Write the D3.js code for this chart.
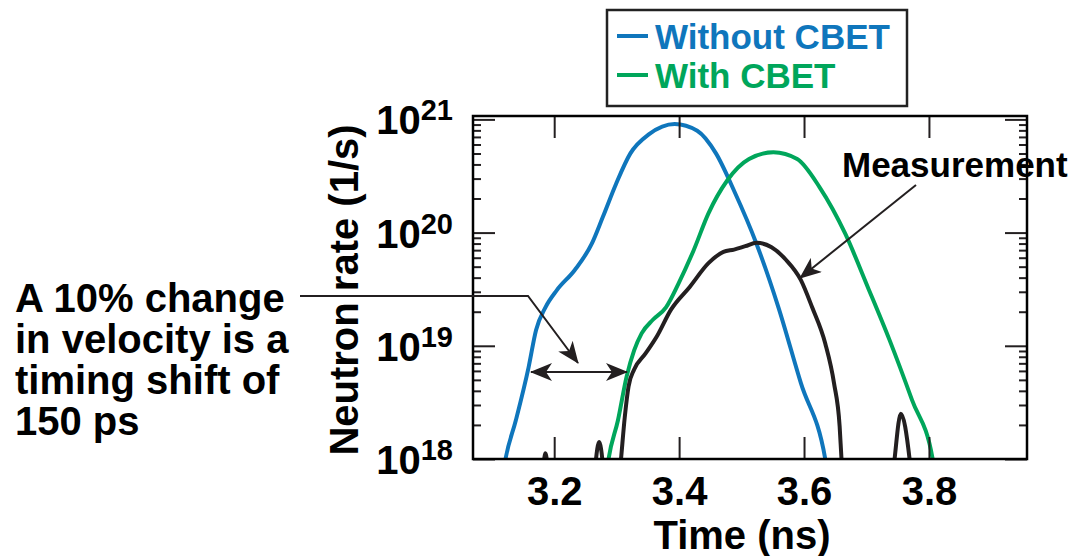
<!DOCTYPE html>
<html>
<head>
<meta charset="utf-8">
<script src="https://cdn.jsdelivr.net/npm/d3@7"></script>
<style>
  body { margin: 0; background: #fff; }
  svg { display: block; font-family: "Liberation Sans", Arial, sans-serif; font-weight: bold; }
</style>
</head>
<body>
<div id="plot"></div>
<script>
// time (ns) and log10 of neutron rate (1/s)
const withoutTime = [3.116, 3.122, 3.1385, 3.159, 3.171, 3.186, 3.204, 3.233, 3.260, 3.278, 3.299, 3.322, 3.352, 3.393, 3.429, 3.459, 3.488, 3.524, 3.559, 3.595, 3.634, 3.640];
const withoutLog  = [17.8, 18.0, 18.34, 18.81, 19.14, 19.34, 19.49, 19.67, 19.90, 20.14, 20.43, 20.70, 20.87, 20.96, 20.90, 20.70, 20.37, 19.90, 19.34, 18.67, 18.0, 17.8];

const withTime = [3.282, 3.287, 3.302, 3.316, 3.328, 3.340, 3.358, 3.379, 3.399, 3.423, 3.447, 3.477, 3.512, 3.551, 3.589, 3.625, 3.666, 3.702, 3.737, 3.773, 3.806, 3.812];
const withLog  = [17.8, 18.0, 18.34, 18.73, 18.96, 19.11, 19.23, 19.34, 19.55, 19.84, 20.17, 20.46, 20.65, 20.71, 20.65, 20.40, 19.99, 19.52, 19.05, 18.52, 18.0, 17.8];

const measTime = [3.170, 3.182, 3.186, 3.190, 3.200, 3.260, 3.266, 3.272, 3.278, 3.284, 3.302, 3.307, 3.313, 3.319, 3.328, 3.346, 3.364, 3.387, 3.417, 3.447, 3.471, 3.488, 3.506, 3.524, 3.548, 3.571, 3.595, 3.613, 3.634, 3.648, 3.657, 3.660, 3.664, 3.700, 3.738, 3.745, 3.755, 3.769, 3.776, 3.800];
const measLog  = [17.0, 17.9, 18.05, 17.9, 17.0, 17.5, 17.95, 18.15, 17.95, 17.5, 17.7, 18.0, 18.37, 18.64, 18.79, 18.93, 19.08, 19.32, 19.52, 19.73, 19.83, 19.85, 19.88, 19.91, 19.87, 19.76, 19.58, 19.34, 19.02, 18.67, 18.29, 18.0, 17.7, 17.0, 17.6, 18.0, 18.40, 18.0, 17.6, 17.0];

const xTicks = [3.2, 3.4, 3.6, 3.8];
const yDecades = [18, 19, 20, 21];
const legendNames = ['Without CBET', 'With CBET'];

const note = ['A 10% change', 'in velocity is a', 'timing shift of', '150 ps'];

const colBlue = '#0f76bc';
const colGreen = '#00a65b';
const colBlack = '#231f20';

const width = 1071;
const height = 556;
const plot = { left: 473, right: 1027, top: 116, bottom: 459 };

const svg = d3.select('#plot')
  .append('svg')
  .attr('width', width)
  .attr('height', height);

const x = d3.scaleLinear().domain([3.07, 3.957]).range([plot.left, plot.right]);
const y = d3.scaleLog().domain([1e18, Math.pow(10, 21.03)]).range([plot.bottom, plot.top]);

const majors = yDecades.map(e => Math.pow(10, e));
const minors = [];
yDecades.slice(0, -1).forEach(e => {
  for (let m = 2; m <= 9; m++) minors.push(m * Math.pow(10, e));
});

// clip
svg.append('clipPath').attr('id', 'clip')
  .append('rect')
  .attr('x', plot.left).attr('y', plot.top)
  .attr('width', plot.right - plot.left).attr('height', plot.bottom - plot.top);

// curves
const line = d3.line()
  .x(d => x(d[0]))
  .y(d => y(Math.pow(10, d[1])))
  .curve(d3.curveMonotoneX);

const series = [
  { t: withoutTime, v: withoutLog, col: colBlue },
  { t: withTime, v: withLog, col: colGreen },
  { t: measTime, v: measLog, col: colBlack }
];

svg.append('g')
  .attr('clip-path', 'url(#clip)')
  .selectAll('path')
  .data(series)
  .enter()
  .append('path')
  .attr('d', d => line(d3.zip(d.t, d.v)))
  .attr('fill', 'none')
  .attr('stroke', d => d.col)
  .attr('stroke-width', 4)
  .attr('stroke-linejoin', 'round');

// axes, ticks pointing inward
const clean = g => {
  g.select('.domain').remove();
  g.selectAll('.tick line').attr('stroke', colBlack).attr('stroke-width', 2);
};

svg.append('g').attr('transform', `translate(${plot.left},0)`)
  .call(d3.axisLeft(y).tickValues(majors).tickSize(-22).tickFormat('')).call(clean);
svg.append('g').attr('transform', `translate(${plot.left},0)`)
  .call(d3.axisLeft(y).tickValues(minors).tickSize(-8).tickFormat('')).call(clean);
svg.append('g').attr('transform', `translate(${plot.right},0)`)
  .call(d3.axisRight(y).tickValues(majors).tickSize(-22).tickFormat('')).call(clean);
svg.append('g').attr('transform', `translate(${plot.right},0)`)
  .call(d3.axisRight(y).tickValues(minors).tickSize(-8).tickFormat('')).call(clean);
svg.append('g').attr('transform', `translate(0,${plot.top})`)
  .call(d3.axisTop(x).tickValues(xTicks).tickSize(-22).tickFormat('')).call(clean);

const xAxis = svg.append('g').attr('transform', `translate(0,${plot.bottom})`)
  .call(d3.axisBottom(x).tickValues(xTicks).tickSize(-22).tickPadding(18).tickFormat(d3.format('.1f')))
  .call(clean);
xAxis.attr('font-size', 40).attr('font-family', null);
xAxis.selectAll('text').attr('fill', '#000');

// frame
svg.append('rect')
  .attr('x', plot.left).attr('y', plot.top)
  .attr('width', plot.right - plot.left).attr('height', plot.bottom - plot.top)
  .attr('fill', 'none')
  .attr('stroke', '#000')
  .attr('stroke-width', 2.5);

// y tick labels 10^n
const yLab = svg.append('g').selectAll('text')
  .data(yDecades)
  .enter()
  .append('text')
  .attr('x', 453)
  .attr('y', d => y(Math.pow(10, d)) + 15)
  .attr('text-anchor', 'end')
  .attr('font-size', 40);
yLab.append('tspan').text('10');
yLab.append('tspan').attr('dy', -14).attr('font-size', 29).text(d => d);

// axis titles
svg.append('text')
  .attr('x', 742).attr('y', 549)
  .attr('text-anchor', 'middle')
  .attr('font-size', 40)
  .text('Time (ns)');

svg.append('text')
  .attr('transform', 'translate(358,290) rotate(-90)')
  .attr('text-anchor', 'middle')
  .attr('font-size', 40)
  .text('Neutron rate (1/s)');

// legend
const legend = svg.append('g');
legend.append('rect')
  .attr('x', 607).attr('y', 10).attr('width', 300).attr('height', 96)
  .attr('fill', '#fff').attr('stroke', '#222').attr('stroke-width', 2.5);
const legItems = legend.selectAll('g.item')
  .data(legendNames)
  .enter()
  .append('g')
  .attr('class', 'item')
  .attr('transform', (d, i) => `translate(0,${i * 39})`);
legItems.append('line')
  .attr('x1', 617).attr('x2', 648).attr('y1', 36).attr('y2', 36)
  .attr('stroke', (d, i) => i ? colGreen : colBlue).attr('stroke-width', 4);
legItems.append('text')
  .attr('x', 655).attr('y', 49)
  .attr('font-size', 35)
  .attr('fill', (d, i) => i ? colGreen : colBlue)
  .text(d => d);

// annotations
svg.append('defs').append('marker')
  .attr('id', 'arr')
  .attr('viewBox', '0 0 22 18')
  .attr('refX', 21).attr('refY', 9)
  .attr('markerWidth', 22).attr('markerHeight', 18)
  .attr('markerUnits', 'userSpaceOnUse')
  .attr('orient', 'auto-start-reverse')
  .append('path')
  .attr('d', 'M0,0 L22,9 L0,18 L6,9 Z')
  .attr('fill', colBlack);

svg.append('path')
  .attr('d', 'M300,296 L528,296 L578,363')
  .attr('fill', 'none')
  .attr('stroke', colBlack).attr('stroke-width', 2)
  .attr('marker-end', 'url(#arr)');

svg.append('line')
  .attr('x1', 531).attr('x2', 627).attr('y1', 372).attr('y2', 372)
  .attr('stroke', colBlack).attr('stroke-width', 2)
  .attr('marker-start', 'url(#arr)')
  .attr('marker-end', 'url(#arr)');

svg.append('line')
  .attr('x1', 916).attr('y1', 185).attr('x2', 800).attr('y2', 278)
  .attr('stroke', colBlack).attr('stroke-width', 2)
  .attr('marker-end', 'url(#arr)');

svg.append('text')
  .attr('x', 842).attr('y', 177)
  .attr('font-size', 35)
  .text('Measurement');

svg.append('g').selectAll('text')
  .data(note)
  .enter()
  .append('text')
  .attr('x', 15)
  .attr('y', (d, i) => 312 + i * 41)
  .attr('font-size', 40)
  .text(d => d);
</script>
</body>
</html>
